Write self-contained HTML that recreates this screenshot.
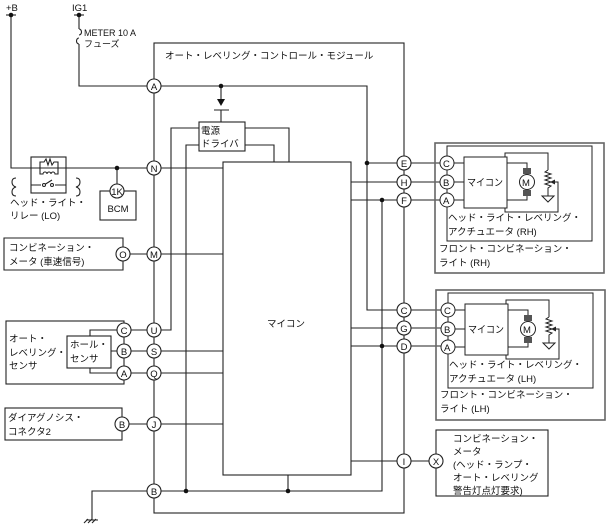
<!DOCTYPE html>
<html><head><meta charset="utf-8"><style>
html,body{margin:0;padding:0;background:#fff;}
svg{display:block;}
text{font-family:"Liberation Sans","Noto Sans CJK JP",sans-serif;font-size:9.5px;fill:#111;}
</style></head><body>
<svg width="607" height="528" viewBox="0 0 607 528" xmlns="http://www.w3.org/2000/svg">
<defs>
<g id="act">
  <rect x="435" y="143" width="169" height="130" fill="none" stroke="#666" stroke-width="1.6"/>
  <rect x="447" y="146" width="145" height="95" fill="none" stroke="#222" stroke-width="1"/>
  <rect x="464" y="157" width="43" height="51" fill="#fff" stroke="#222"/>
  <text x="467" y="186" style="font-size:10px" textLength="36" lengthAdjust="spacingAndGlyphs">マイコン</text>
  <path d="M447 163H464M447 182H464M447 200H464" stroke="#222" fill="none"/>
  <path d="M505 157V153H548V170" stroke="#222" fill="none"/>
  <path d="M507 163H527V168M527 196V200H507" stroke="#222" fill="none"/>
  <rect x="523" y="168" width="8" height="6" fill="#555"/>
  <rect x="523" y="190" width="8" height="6" fill="#555"/>
  <circle cx="527" cy="182" r="7.5" fill="#fff" stroke="#222"/>
  <text x="522" y="186">M</text>
  <path d="M548 170L545 172L551 174L545 176L551 178L545 180L551 182L545 184L551 186L548 188V196" stroke="#222" fill="none"/>
  <path d="M542 196H554L548 202Z" fill="#fff" stroke="#222"/>
  <path d="M505 208V212H558V182H553" stroke="#222" fill="none"/>
  <path d="M550 182L555 179.5V184.5Z" fill="#222"/>
  <g stroke="#222" fill="#fff">
   <circle cx="447" cy="163" r="7"/><circle cx="447" cy="182" r="7"/><circle cx="447" cy="200" r="7"/>
  </g>
  <text x="443" y="167">C</text><text x="443" y="186">B</text><text x="443" y="204">A</text>
</g>
</defs>
<g stroke="#222" stroke-width="1.1" fill="none">
  <rect x="154" y="43" width="250" height="470"/>
  <rect x="223" y="162" width="128" height="313"/>
  <rect x="199" y="122" width="46" height="29"/>
  <path d="M11 15V168H154"/>
  <path d="M6 15H16"/>
  <path d="M74 15H84"/>
  <path d="M79 15V29M79 44V86H154"/>
  <path d="M79 29a2.5 3 0 1 1 0 6M79 38a2.5 3 0 1 0 0 6"/>
  <path d="M154 86H367V310H404"/>
  <path d="M221 86V104M214 110H229M221 110V122"/>
  <path d="M199 128H171V330H161"/>
  <path d="M199 145H186V491"/>
  <path d="M245 128H289V162"/>
  <path d="M245 145H274V162"/>
  <path d="M154 168H223"/>
  <path d="M117 168V184"/>
  <path d="M154 254H223M154 351H223M154 373H223M154 424H223"/>
  <path d="M123 254H154M124 330H154M124 351H154M124 373H154M122 424H154"/>
  <path d="M367 163H404M351 182H404M351 200H404M351 328H404M351 346H404M351 461H404"/>
  <path d="M404 163H447M404 182H447M404 200H447"/>
  <path d="M404 310H447M404 328H447M404 346H447M404 461H436"/>
  <path d="M154 491H382V200"/>
  <path d="M288 475V491"/>
  <path d="M154 491H92V520M86 520H98M84 523L88 519M88 523L92 519M92 523L96 519"/>
  <rect x="31" y="157" width="35" height="36"/>
  <path d="M40 168V162H44L46 159L48 165L50 159L52 165L54 162H58V168"/>
  <path d="M40 168V174H43a2 2 0 0 1 4 0a2 2 0 0 1 4 0a2 2 0 0 1 4 0H58V168"/>
  <path d="M31 185H41M55 185H66M44 185L52 180"/>
  <path d="M16 178q-4 0-4 4q0 4 4 5q-4 1-4 5q0 4 4 4"/>
  <path d="M76 178q4 0 4 4q0 4-4 5q4 1 4 5q0 4-4 4"/>
  <rect x="100" y="191" width="36" height="29"/>
  <path d="M4 238H123V270H4Z"/>
  <rect x="6" y="321" width="118" height="63"/>
  <rect x="67" y="336" width="44" height="32"/>
  <path d="M124 330H90V336M124 373H90V368M111 351H124"/>
  <rect x="5" y="408" width="117" height="32"/>
  <rect x="436" y="430" width="112" height="66"/>
</g>
<circle cx="11" cy="15" r="2.3" fill="#111"/>
<circle cx="79" cy="15" r="2.3" fill="#111"/>
<circle cx="117" cy="168" r="2.3" fill="#111"/>
<circle cx="221" cy="86" r="2.3" fill="#111"/>
<circle cx="367" cy="163" r="2.3" fill="#111"/>
<circle cx="382" cy="200" r="2.3" fill="#111"/>
<circle cx="382" cy="346" r="2.3" fill="#111"/>
<circle cx="186" cy="491" r="2.3" fill="#111"/>
<circle cx="288" cy="491" r="2.3" fill="#111"/>
<path d="M221 106L217 99H225Z" fill="#111"/>
<circle cx="44" cy="185" r="1.5" fill="#fff" stroke="#222"/>
<circle cx="52" cy="185" r="1.5" fill="#fff" stroke="#222"/>
<use href="#act"/>
<use href="#act" transform="translate(1,147)"/>
<g stroke="#222" stroke-width="1.1" fill="#fff">
 <circle cx="154" cy="86" r="7"/><circle cx="154" cy="168" r="7"/><circle cx="154" cy="254" r="7"/>
 <circle cx="154" cy="330" r="7"/><circle cx="154" cy="351" r="7"/><circle cx="154" cy="373" r="7"/>
 <circle cx="154" cy="424" r="7"/><circle cx="154" cy="491" r="7"/>
 <circle cx="404" cy="163" r="7"/><circle cx="404" cy="182" r="7"/><circle cx="404" cy="200" r="7"/>
 <circle cx="404" cy="310" r="7"/><circle cx="404" cy="328" r="7"/><circle cx="404" cy="346" r="7"/>
 <circle cx="404" cy="461" r="7"/><circle cx="436" cy="461" r="7"/>
 <circle cx="123" cy="254" r="7"/><circle cx="124" cy="330" r="7"/><circle cx="124" cy="351" r="7"/>
 <circle cx="124" cy="373" r="7"/><circle cx="122" cy="424" r="7"/><circle cx="117" cy="191" r="7"/>
</g>
<g text-anchor="middle">
 <text x="154" y="90">A</text><text x="154" y="172">N</text><text x="154" y="258">M</text>
 <text x="154" y="334">U</text><text x="154" y="355">S</text><text x="154" y="377">Q</text>
 <text x="154" y="428">J</text><text x="154" y="495">B</text>
 <text x="404" y="167">E</text><text x="404" y="186">H</text><text x="404" y="204">F</text>
 <text x="404" y="314">C</text><text x="404" y="332">G</text><text x="404" y="350">D</text>
 <text x="404" y="465">I</text><text x="436" y="465">X</text>
 <text x="123" y="258">O</text><text x="124" y="334">C</text><text x="124" y="355">B</text>
 <text x="124" y="377">A</text><text x="122" y="428">B</text><text x="117" y="195">1K</text>
 <text x="118" y="212">BCM</text>
</g>
<text x="6" y="11">+B</text>
<text x="72" y="11">IG1</text>
<text x="84" y="36" style="font-size:9px">METER 10 A</text>
<text x="84" y="47" style="font-size:9px">フューズ</text>
<text x="165" y="59">オート・レベリング・コントロール・モジュール</text>
<text x="201" y="134">電源</text>
<text x="201" y="147">ドライバ</text>
<text x="10" y="206">ヘッド・ライト・</text>
<text x="10" y="219">リレー (LO)</text>
<text x="9" y="251">コンビネーション・</text>
<text x="9" y="265">メータ (車速信号)</text>
<text x="9" y="342">オート・</text>
<text x="9" y="356">レベリング・</text>
<text x="9" y="369">センサ</text>
<text x="70" y="348">ホール・</text>
<text x="70" y="362">センサ</text>
<text x="8" y="421">ダイアグノシス・</text>
<text x="8" y="435">コネクタ2</text>
<text x="267" y="327">マイコン</text>
<text x="448" y="221">ヘッド・ライト・レベリング・</text>
<text x="448" y="235">アクチュエータ (RH)</text>
<text x="439" y="252">フロント・コンビネーション・</text>
<text x="439" y="266">ライト (RH)</text>
<text x="449" y="368">ヘッド・ライト・レベリング・</text>
<text x="449" y="382">アクチュエータ (LH)</text>
<text x="440" y="398">フロント・コンビネーション・</text>
<text x="440" y="412">ライト (LH)</text>
<text x="453" y="442">コンビネーション・</text>
<text x="453" y="455">メータ</text>
<text x="453" y="468">(ヘッド・ランプ・</text>
<text x="453" y="481">オート・レベリング</text>
<text x="453" y="494">警告灯点灯要求)</text>
</svg>
</body></html>
